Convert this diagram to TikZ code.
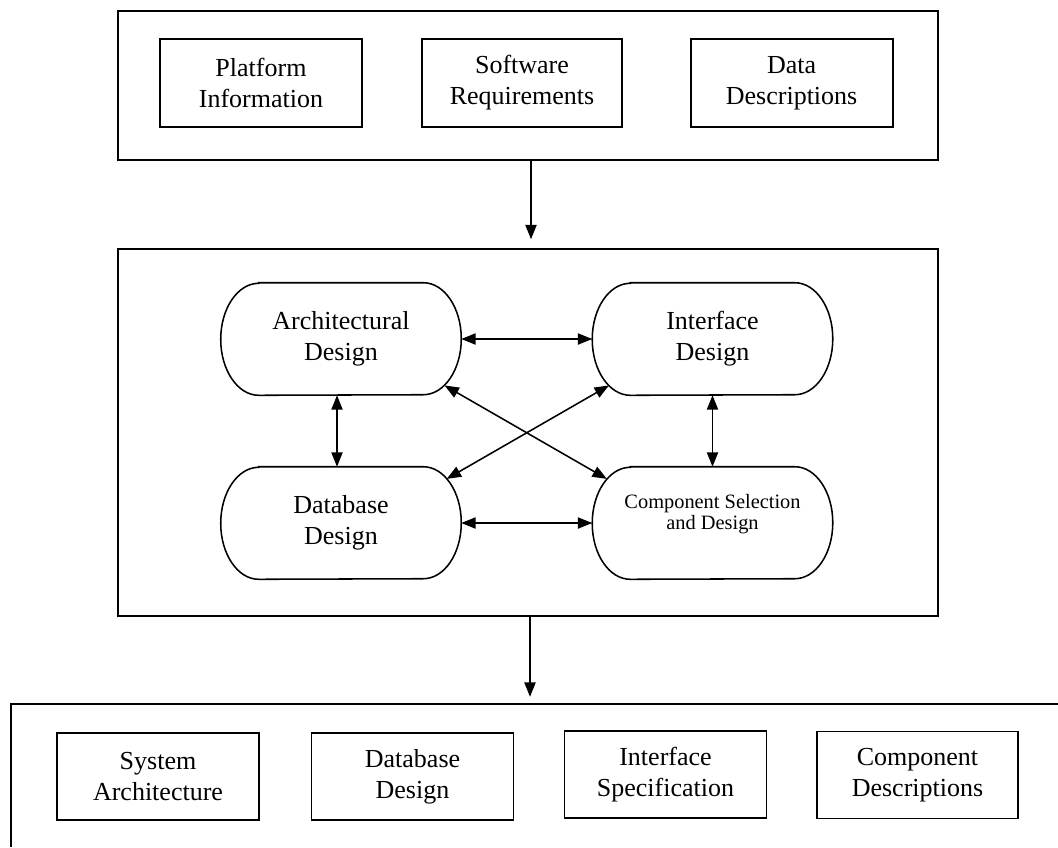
\documentclass[tikz,border=0pt]{standalone}
\usepackage{fontspec}
\setmainfont{Liberation Serif}
\usepackage{tikz}
\usetikzlibrary{arrows.meta,positioning,calc}
\tikzset{
  frame/.style={draw=black, line width=1.4pt, minimum width=20.5cm, inner sep=0pt},
  doc/.style={draw=black, line width=1.3pt, minimum width=5.05cm, minimum height=2.2cm,
              align=center, inner sep=0pt, font=\fontsize{18.5}{22}\selectfont},
  pill/.style={minimum width=6cm, minimum height=2.8cm, inner sep=0pt,
               align=center, font=\fontsize{18.5}{22}\selectfont},
  pillline/.style={draw=black, line width=1.1pt},
  arr/.style={-{Triangle[length=3.6mm,width=2.8mm]}, line width=1.1pt},
  dbl/.style={{Triangle[length=3.6mm,width=2.8mm]}-{Triangle[length=3.6mm,width=2.8mm]}, line width=1.1pt},
}
% outline of a pill node: flat top/bottom, half-ellipse ends
\newcommand{\pillrx}{0.95cm}
\newcommand{\pillborder}[1]{%
  \draw[pillline] ($(#1.north west)+(\pillrx,0)$) -- ($(#1.north east)+(-\pillrx,0)$)
    arc[start angle=90, end angle=-90, x radius=\pillrx, y radius=1.4cm]
    -- ($(#1.south west)+(\pillrx,0)$)
    arc[start angle=270, end angle=90, x radius=\pillrx, y radius=1.4cm] -- cycle;}

\begin{document}
\begin{tikzpicture}
  \useasboundingbox (0,0) rectangle (26.45,-21.175);

  % ---- top: inputs ----
  \node[frame, minimum height=3.725cm] (inputs) at (13.2,-2.1375) {};
  \node[doc] (plat) at (6.525,-2.075) {Platform\\Information};
  \node[doc, minimum width=5.0cm] (soft) at (13.05,-2.075) {Software\\Requirements};
  \node[doc] (data) at (19.79,-2.075) {Data\\Descriptions};

  % ---- middle: design activities ----
  \node[frame, minimum height=9.175cm] (design) at (13.2,-10.8125) {};
  \node[pill] (arch) at (8.525,-8.475) {Architectural\\Design};
  \node[pill] (intf) at (17.8125,-8.475) {Interface\\Design};
  \node[pill] (dbase) at (8.525,-13.075) {Database\\Design};
  \node[pill, font=\fontsize{14.5}{15}\selectfont] (comp) at (17.8125,-13.075)
    {Component Selection\\and Design\\[1pt]};
  \foreach \n in {arch,intf,dbase,comp} {\pillborder{\n}}

  \draw[arr] ([xshift=0.75mm]inputs.south) -- ([xshift=0.75mm,yshift=2.2mm]design.north);
  \draw[dbl] (arch.east) -- (intf.west);
  \draw[dbl] (dbase.east) -- (comp.west);
  \draw[dbl] ([xshift=-1mm]arch.south) -- ([xshift=-1mm]dbase.north);
  \draw[dbl] (intf.south) -- (comp.north);
  \draw[dbl] ($(arch.east)+(-0.95,0)+(-56:0.95 and 1.4)$) -- ($(comp.west)+(0.95,0)+(128:0.95 and 1.4)$);
  \draw[dbl] ($(intf.west)+(0.95,0)+(-124:0.95 and 1.4)$) -- ($(dbase.east)+(-0.95,0)+(52:0.95 and 1.4)$);

  % ---- bottom: outputs (runs off the page) ----
  \draw[line width=1.4pt] (0.275,-21.175) -- (0.275,-17.6) -- (26.45,-17.6);
  \coordinate (outtop) at (13.25,-17.6);
  \draw[arr] ([xshift=0.5mm]design.south) -- ([yshift=1.8mm]outtop);
  \node[doc, minimum height=2.175cm] (sysarch) at (3.95,-19.4125) {System\\Architecture};
  \node[doc, minimum height=2.175cm] (dbdes) at (10.3125,-19.4125) {Database\\Design};
  \node[doc, minimum height=2.175cm] (intspec) at (16.6375,-19.3625) {Interface\\Specification};
  \node[doc, minimum height=2.175cm, minimum width=5.025cm] (compdesc) at (22.9375,-19.375) {Component\\Descriptions};
\end{tikzpicture}
\end{document}
